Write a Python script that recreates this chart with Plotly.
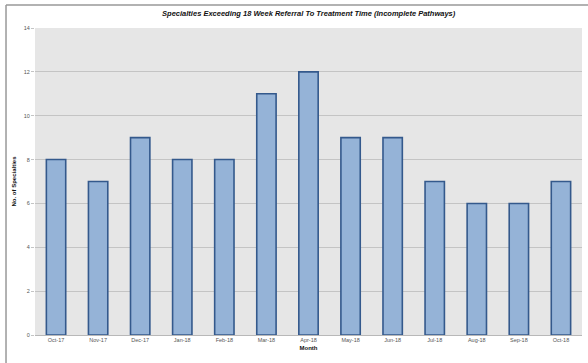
import plotly.graph_objects as go

months = ["Oct-17", "Nov-17", "Dec-17", "Jan-18", "Feb-18", "Mar-18", "Apr-18",
          "May-18", "Jun-18", "Jul-18", "Aug-18", "Sep-18", "Oct-18"]
specialties = [8, 7, 9, 8, 8, 11, 12, 9, 9, 7, 6, 6, 7]
y_ticks = [0, 2, 4, 6, 8, 10, 12, 14]

fig = go.Figure()
fig.add_trace(go.Bar(
    x=months,
    y=specialties,
    width=0.46,
    marker=dict(color="#95b3d7", line=dict(color="#34598c", width=1.6)),
))

font = "Liberation Sans, Arial, sans-serif"
fig.update_layout(
    width=588, height=363,
    margin=dict(l=35, r=6, t=28, b=28),
    paper_bgcolor="white",
    plot_bgcolor="#e6e6e6",
    showlegend=False,
    bargap=0.54,
    title=dict(
        text="<b><i>Specialties Exceeding 18 Week Referral To Treatment Time (Incomplete Pathways)</i></b>",
        font=dict(family=font, size=7.5, color="#111"),
        x=0.525, xanchor="center", y=0.962, yanchor="middle",
    ),
    xaxis=dict(
        title=dict(text="<b>Month</b>", font=dict(family=font, size=6, color="#111"), standoff=4),
        tickfont=dict(family=font, size=5.5, color="#555"),
        showgrid=False, ticks="", showline=False,
    ),
    yaxis=dict(
        title=dict(text="<b>No. of Specialties</b>", font=dict(family=font, size=6, color="#111"), standoff=6),
        range=[0, 14], tickvals=y_ticks,
        tickfont=dict(family=font, size=5.5, color="#555"),
        showgrid=True, gridcolor="#c4c4c4", gridwidth=1,
        zeroline=True, zerolinecolor="#b8b8b8", zerolinewidth=1,
        ticks="outside", ticklen=3, tickcolor="#c4c4c4",
    ),
    shapes=[
        dict(type="line", xref="paper", yref="paper", x0=-0.053, x1=1.02, y0=1.075, y1=1.075,
             line=dict(color="#999", width=1.5)),
        dict(type="line", xref="paper", yref="paper", x0=-0.053, x1=-0.053, y0=1.075, y1=-0.1,
             line=dict(color="#999", width=1.5)),
    ],
)

fig.write_html("out.html")
